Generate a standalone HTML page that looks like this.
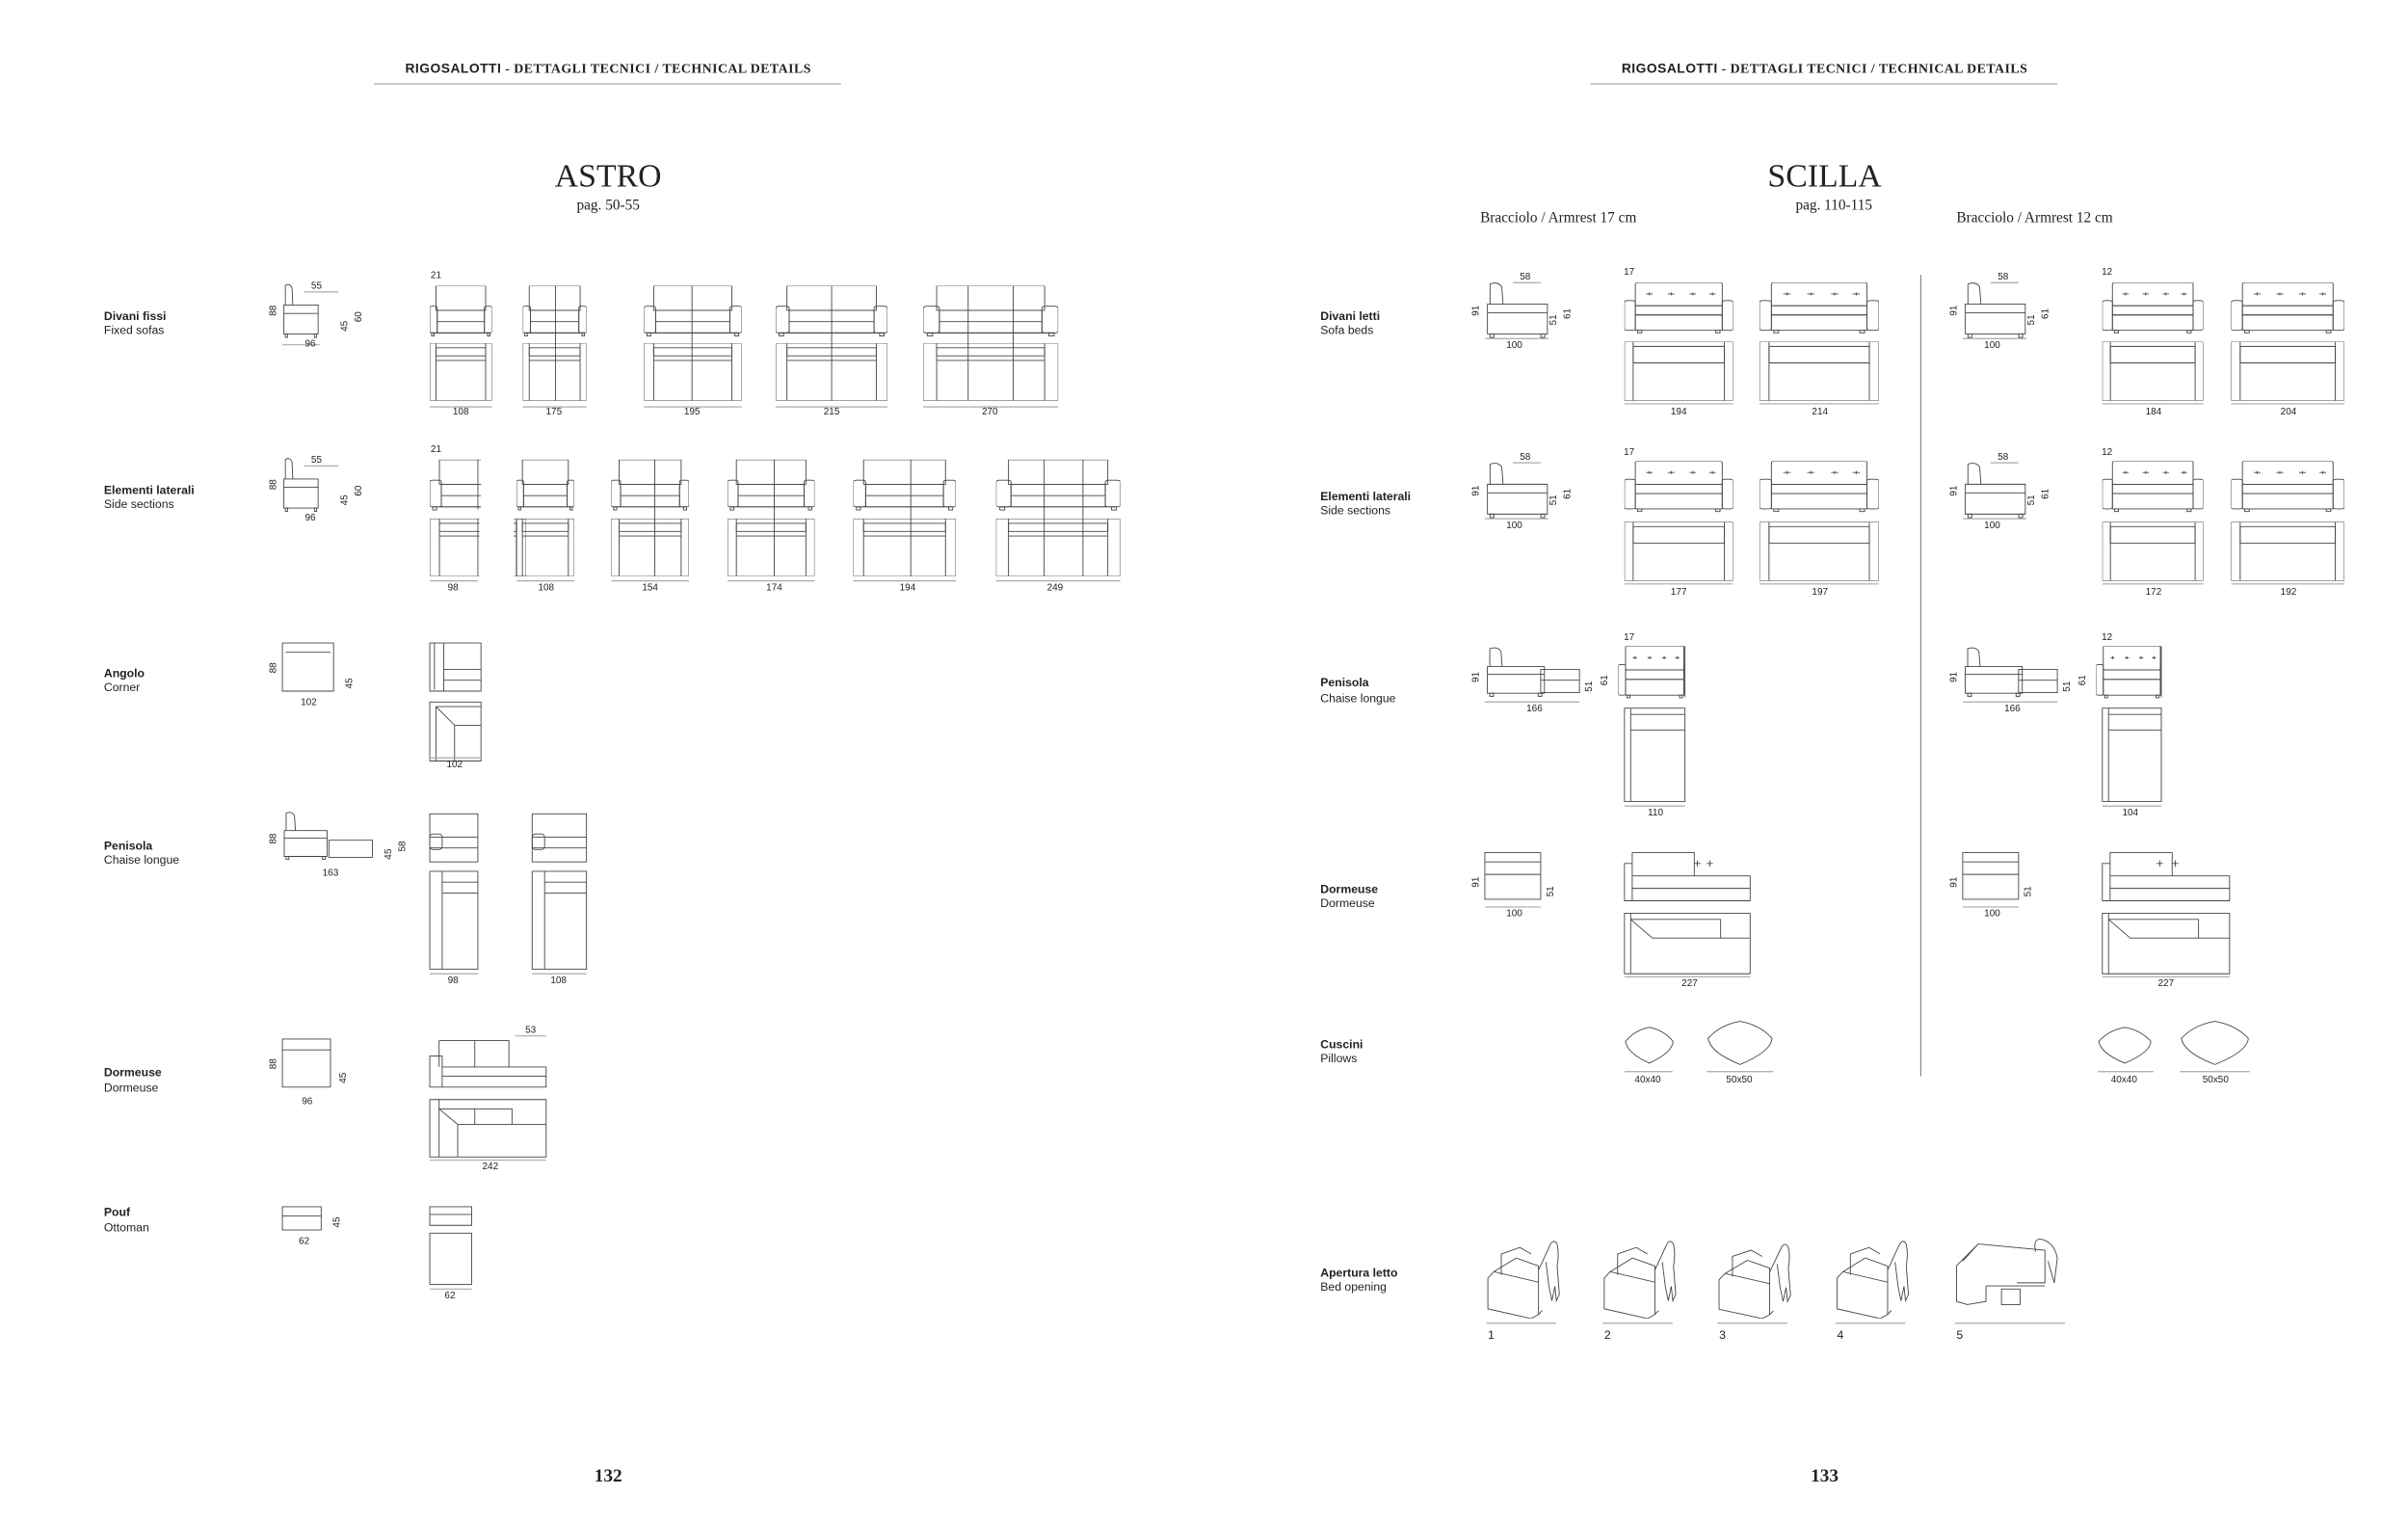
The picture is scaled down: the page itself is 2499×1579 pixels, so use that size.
<!DOCTYPE html>
<html><head><meta charset="utf-8"><style>
html,body{margin:0;padding:0;background:#fff}
svg{display:block}
.s{fill:none;stroke:#444;stroke-width:0.9;vector-effect:non-scaling-stroke}
.g{fill:none;stroke:#aaa;stroke-width:1.2;vector-effect:non-scaling-stroke}
text{font-family:"Liberation Sans",sans-serif;fill:#222}
.d{font-size:6.2px;text-anchor:middle}
.lb{font-size:7.6px;font-weight:bold}
.ls{font-size:7.6px}
.hd{font-family:"Liberation Serif",serif;font-size:8.6px;font-weight:bold;text-anchor:middle;letter-spacing:0.3px}
.hd tspan.a{font-family:"Liberation Sans",sans-serif}
.ti{font-family:"Liberation Serif",serif;font-size:21px;text-anchor:middle}
.pg{font-family:"Liberation Serif",serif;font-size:9.5px;text-anchor:middle}
.br{font-family:"Liberation Serif",serif;font-size:9.5px}
.pn{font-family:"Liberation Serif",serif;font-size:12px;font-weight:bold;text-anchor:middle}
</style></head><body>
<svg width="2499" height="1579" viewBox="0 0 1552 980" preserveAspectRatio="none" xmlns="http://www.w3.org/2000/svg">
<defs>
<symbol id="fr" viewBox="0 0 100 100" preserveAspectRatio="none">
<rect class="s" x="10" y="0" width="80" height="48"/><rect class="s" x="0" y="40" width="12" height="52" rx="3"/><rect class="s" x="88" y="40" width="12" height="52" rx="3"/><rect class="s" x="12" y="48" width="76" height="44"/><line class="s" x1="12" y1="70" x2="88" y2="70"/><line class="s" x1="4" y1="92" x2="96" y2="92"/><rect class="s" x="3" y="92" width="4" height="6"/><rect class="s" x="93" y="92" width="4" height="6"/></symbol>
<symbol id="tp" viewBox="0 0 100 100" preserveAspectRatio="none">
<rect class="s" x="0" y="0" width="100" height="100"/><line class="s" x1="10" y1="0" x2="10" y2="100"/><line class="s" x1="90" y1="0" x2="90" y2="100"/><rect class="s" x="10" y="8" width="80" height="14"/><line class="s" x1="10" y1="30" x2="90" y2="30"/></symbol>
<symbol id="sd" viewBox="0 0 100 100" preserveAspectRatio="none">
<path class="s" d="M8 40 L8 5 Q20 0 26 10 L28 40"/><rect class="s" x="4" y="40" width="92" height="52"/><line class="s" x1="4" y1="55" x2="96" y2="55"/><rect class="s" x="8" y="92" width="6" height="6"/><rect class="s" x="86" y="92" width="6" height="6"/></symbol>
<symbol id="sb" viewBox="0 0 100 100" preserveAspectRatio="none">
<rect class="s" x="10" y="0" width="80" height="45" rx="2"/><rect class="s" x="10" y="45" width="80" height="18"/><rect class="s" x="10" y="63" width="80" height="30"/><rect class="s" x="0" y="35" width="10" height="58" rx="3"/><rect class="s" x="90" y="35" width="10" height="58" rx="3"/><path class="s" d="M20 22h6M23 19v6M40 22h6M43 19v6M60 22h6M63 19v6M78 22h6M81 19v6"/><rect class="s" x="12" y="93" width="4" height="5"/><rect class="s" x="84" y="93" width="4" height="5"/></symbol>
<symbol id="st" viewBox="0 0 100 100" preserveAspectRatio="none">
<rect class="s" x="0" y="0" width="100" height="100"/><line class="s" x1="8" y1="0" x2="8" y2="100"/><line class="s" x1="92" y1="0" x2="92" y2="100"/><rect class="s" x="8" y="8" width="84" height="28"/></symbol>
<symbol id="cu" viewBox="0 0 100 100" preserveAspectRatio="none">
<path class="s" d="M50 2 Q80 10 98 40 Q96 70 50 98 Q6 72 2 40 Q20 10 50 2Z"/></symbol>
<symbol id="op" viewBox="0 0 100 100" preserveAspectRatio="none">
<path class="s" d="M2 50 L2 88 L60 100 L70 95 L70 55 L10 42Z M10 42 L40 25 L70 35 L70 55 M20 46 L20 20 L45 12 L60 20 M70 95 L75 90"/><path class="s" d="M70 40 Q80 20 85 10 Q90 0 95 8 Q98 20 95 35 L98 70 L94 78 L92 60 L88 78 L84 60 L80 30"/></symbol>
</defs>

<!-- LEFT PAGE -->
<text class="hd" x="392" y="47"><tspan class="a">RIGOSALOTTI</tspan> - DETTAGLI TECNICI / TECHNICAL DETAILS</text>
<line class="g" x1="241" y1="54" x2="542" y2="54"/>
<text class="ti" x="392" y="120">ASTRO</text>
<text class="pg" x="392" y="135">pag. 50-55</text>

<text class="lb" x="67" y="206">Divani fissi</text><text class="ls" x="67" y="215">Fixed sofas</text>
<text class="lb" x="67" y="318">Elementi laterali</text><text class="ls" x="67" y="327">Side sections</text>
<text class="lb" x="67" y="436">Angolo</text><text class="ls" x="67" y="445">Corner</text>
<text class="lb" x="67" y="547">Penisola</text><text class="ls" x="67" y="556">Chaise longue</text>
<text class="lb" x="67" y="693">Dormeuse</text><text class="ls" x="67" y="703">Dormeuse</text>
<text class="lb" x="67" y="783">Pouf</text><text class="ls" x="67" y="793">Ottoman</text>

<use href="#sd" x="182" y="182" width="24" height="36"/><text class="d" x="204" y="186">55</text><line class="g" x1="196" y1="188" x2="218" y2="188"/>
<text class="d" transform="translate(178,200) rotate(-90)">88</text><text class="d" transform="translate(224,210) rotate(-90)">45</text><text class="d" transform="translate(233,204) rotate(-90)">60</text><line class="g" x1="182" y1="222" x2="206" y2="222"/><text class="d" x="200" y="223">96</text>
<use href="#sd" x="182" y="294" width="24" height="36"/><text class="d" x="204" y="298">55</text><line class="g" x1="196" y1="300" x2="218" y2="300"/>
<text class="d" transform="translate(178,312) rotate(-90)">88</text><text class="d" transform="translate(224,322) rotate(-90)">45</text><text class="d" transform="translate(233,316) rotate(-90)">60</text><text class="d" x="200" y="335">96</text>
<rect class="s" x="182" y="414" width="33" height="31"/><line class="s" x1="184" y1="420" x2="213" y2="420"/><text class="d" transform="translate(178,430) rotate(-90)">88</text><text class="d" transform="translate(227,440) rotate(-90)">45</text><text class="d" x="199" y="454">102</text>
<use href="#sd" x="182" y="522" width="30" height="32"/><rect class="s" x="212" y="541" width="28" height="11"/><text class="d" transform="translate(178,540) rotate(-90)">88</text><text class="d" transform="translate(252,550) rotate(-90)">45</text><text class="d" transform="translate(261,545) rotate(-90)">58</text><text class="d" x="213" y="564">163</text>
<rect class="s" x="182" y="669" width="31" height="31"/><line class="s" x1="182" y1="676" x2="213" y2="676"/><text class="d" transform="translate(178,685) rotate(-90)">88</text><text class="d" transform="translate(223,694) rotate(-90)">45</text><text class="d" x="198" y="711">96</text>
<rect class="s" x="182" y="777" width="25" height="15"/><line class="s" x1="182" y1="783" x2="207" y2="783"/><text class="d" transform="translate(219,787) rotate(-90)">45</text><text class="d" x="196" y="801">62</text>

<text class="d" x="281" y="179">21</text>
<use href="#fr" x="277" y="184" width="40" height="33"/><use href="#tp" x="277" y="221" width="40" height="37"/><line class="g" x1="277" y1="262" x2="317" y2="262"/><text class="d" x="297" y="267">108</text>
<use href="#fr" x="337" y="184" width="41" height="33"/><use href="#tp" x="337" y="221" width="41" height="37"/><line class="s" x1="358" y1="184" x2="358" y2="258"/><line class="g" x1="337" y1="262" x2="378" y2="262"/><text class="d" x="357" y="267">175</text>
<use href="#fr" x="415" y="184" width="63" height="33"/><use href="#tp" x="415" y="221" width="63" height="37"/><line class="s" x1="446" y1="184" x2="446" y2="258"/><line class="g" x1="415" y1="262" x2="478" y2="262"/><text class="d" x="446" y="267">195</text>
<use href="#fr" x="500" y="184" width="72" height="33"/><use href="#tp" x="500" y="221" width="72" height="37"/><line class="s" x1="536" y1="184" x2="536" y2="258"/><line class="g" x1="500" y1="262" x2="572" y2="262"/><text class="d" x="536" y="267">215</text>
<use href="#fr" x="595" y="184" width="87" height="33"/><use href="#tp" x="595" y="221" width="87" height="37"/><line class="s" x1="624" y1="184" x2="624" y2="258"/><line class="s" x1="653" y1="184" x2="653" y2="258"/><line class="g" x1="595" y1="262" x2="682" y2="262"/><text class="d" x="638" y="267">270</text>

<text class="d" x="281" y="291">21</text>
<use href="#fr" x="277" y="296" width="62" height="33"/><rect x="310" y="290" width="40" height="90" fill="#fff"/><line class="s" x1="308" y1="296" x2="308" y2="328"/>
<use href="#tp" x="277" y="334" width="62" height="37"/><rect x="309" y="332" width="22" height="42" fill="#fff"/><line class="s" x1="308" y1="334" x2="308" y2="371"/><line class="g" x1="277" y1="374" x2="308" y2="374"/><text class="d" x="292" y="380">98</text>
<use href="#fr" x="333" y="296" width="37" height="33"/><use href="#tp" x="333" y="334" width="37" height="37"/><line class="g" x1="333" y1="374" x2="370" y2="374"/><text class="d" x="352" y="380">108</text>
<use href="#fr" x="394" y="296" width="50" height="33"/><use href="#tp" x="394" y="334" width="50" height="37"/><line class="s" x1="422" y1="296" x2="422" y2="371"/><line class="g" x1="394" y1="374" x2="444" y2="374"/><text class="d" x="419" y="380">154</text>
<use href="#fr" x="469" y="296" width="56" height="33"/><use href="#tp" x="469" y="334" width="56" height="37"/><line class="s" x1="499" y1="296" x2="499" y2="371"/><line class="g" x1="469" y1="374" x2="525" y2="374"/><text class="d" x="499" y="380">174</text>
<use href="#fr" x="550" y="296" width="66" height="33"/><use href="#tp" x="550" y="334" width="66" height="37"/><line class="s" x1="587" y1="296" x2="587" y2="371"/><line class="g" x1="550" y1="374" x2="616" y2="374"/><text class="d" x="585" y="380">194</text>
<use href="#fr" x="642" y="296" width="80" height="33"/><use href="#tp" x="642" y="334" width="80" height="37"/><line class="s" x1="673" y1="296" x2="673" y2="371"/><line class="s" x1="698" y1="296" x2="698" y2="371"/><line class="g" x1="642" y1="374" x2="722" y2="374"/><text class="d" x="680" y="380">249</text>

<rect class="s" x="277" y="414" width="33" height="31"/><path class="s" d="M280 414v30M286 414v31M286 431h24M286 438h24"/>
<rect class="s" x="277" y="452" width="33" height="38"/><path class="s" d="M281 455h29M281 455v35M281 455l12 12h17M293 467v23"/><line class="g" x1="277" y1="488" x2="310" y2="488"/><text class="d" x="293" y="494">102</text>

<rect class="s" x="277" y="524" width="31" height="31"/><path class="s" d="M277 539h31M277 546h31"/><rect class="s" x="277" y="537" width="8" height="10" rx="2"/>
<rect class="s" x="277" y="561" width="31" height="63"/><path class="s" d="M285 561v63M285 568h23M285 575h23"/><line class="g" x1="277" y1="627" x2="308" y2="627"/><text class="d" x="292" y="633">98</text>
<rect class="s" x="343" y="524" width="35" height="31"/><path class="s" d="M343 539h35M343 546h35"/><rect class="s" x="343" y="537" width="8" height="10" rx="2"/>
<rect class="s" x="343" y="561" width="35" height="63"/><path class="s" d="M351 561v63M351 568h27M351 575h27"/><line class="g" x1="343" y1="627" x2="378" y2="627"/><text class="d" x="360" y="633">108</text>

<text class="d" x="342" y="665">53</text><line class="g" x1="332" y1="667" x2="352" y2="667"/>
<path class="s" d="M283 670h45v17M283 670v17M277 680h8v20h-8zM285 687h67v13H285zM285 693h67M306 670v17"/>
<rect class="s" x="277" y="708" width="75" height="37"/><path class="s" d="M283 708v37M283 714h47v10M330 714v10M283 714l12 10h57M295 724v21M306 714v10"/><line class="g" x1="277" y1="747" x2="352" y2="747"/><text class="d" x="316" y="753">242</text>

<rect class="s" x="277" y="777" width="27" height="12"/><line class="s" x1="277" y1="782" x2="304" y2="782"/>
<rect class="s" x="277" y="794" width="27" height="33"/><line class="g" x1="277" y1="830" x2="304" y2="830"/><text class="d" x="290" y="836">62</text>

<text class="pn" x="392" y="954">132</text>

<!-- RIGHT PAGE -->
<text class="hd" x="1176" y="47"><tspan class="a">RIGOSALOTTI</tspan> - DETTAGLI TECNICI / TECHNICAL DETAILS</text>
<line class="g" x1="1025" y1="54" x2="1326" y2="54"/>
<text class="ti" x="1176" y="120">SCILLA</text>
<text class="pg" x="1182" y="135">pag. 110-115</text>
<text class="br" x="954" y="143">Bracciolo / Armrest 17 cm</text>
<text class="br" x="1261" y="143">Bracciolo / Armrest 12 cm</text>
<line class="g" x1="1238" y1="177" x2="1238" y2="693" style="stroke:#888"/>

<text class="lb" x="851" y="206">Divani letti</text><text class="ls" x="851" y="215">Sofa beds</text>
<text class="lb" x="851" y="322">Elementi laterali</text><text class="ls" x="851" y="331">Side sections</text>
<text class="lb" x="851" y="442">Penisola</text><text class="ls" x="851" y="452">Chaise longue</text>
<text class="lb" x="851" y="575">Dormeuse</text><text class="ls" x="851" y="584">Dormeuse</text>
<text class="lb" x="851" y="675">Cuscini</text><text class="ls" x="851" y="684">Pillows</text>
<text class="lb" x="851" y="822">Apertura letto</text><text class="ls" x="851" y="831">Bed opening</text>

<g id="sv1">
<use href="#sd" x="957" y="181" width="42" height="37"/><text class="d" x="983" y="180">58</text><line class="g" x1="975" y1="182" x2="993" y2="182"/>
<text class="d" transform="translate(953,200) rotate(-90)">91</text><text class="d" transform="translate(1003,206) rotate(-90)">51</text><text class="d" transform="translate(1012,202) rotate(-90)">61</text><line class="g" x1="957" y1="218" x2="998" y2="218"/><text class="d" x="976" y="224">100</text>
<use href="#sd" x="957" y="297" width="42" height="37"/><text class="d" x="983" y="296">58</text><line class="g" x1="975" y1="298" x2="993" y2="298"/>
<text class="d" transform="translate(953,316) rotate(-90)">91</text><text class="d" transform="translate(1003,322) rotate(-90)">51</text><text class="d" transform="translate(1012,318) rotate(-90)">61</text><line class="g" x1="957" y1="334" x2="998" y2="334"/><text class="d" x="976" y="340">100</text>
<use href="#sd" x="957" y="416" width="40" height="33"/><rect class="s" x="993" y="431" width="25" height="15"/><line class="s" x1="993" y1="438" x2="1018" y2="438"/>
<text class="d" transform="translate(953,436) rotate(-90)">91</text><text class="d" transform="translate(1026,442) rotate(-90)">51</text><text class="d" transform="translate(1036,438) rotate(-90)">61</text><line class="g" x1="957" y1="452" x2="1018" y2="452"/><text class="d" x="989" y="458">166</text>
<rect class="s" x="957" y="549" width="36" height="30"/><line class="s" x1="957" y1="555" x2="993" y2="555"/><line class="s" x1="957" y1="563" x2="993" y2="563"/>
<text class="d" transform="translate(953,568) rotate(-90)">91</text><text class="d" transform="translate(1001,574) rotate(-90)">51</text><line class="g" x1="957" y1="584" x2="993" y2="584"/><text class="d" x="976" y="590">100</text>
</g>
<use href="#sv1" x="308" y="0"/>

<text class="d" x="1050" y="177">17</text>
<use href="#sb" x="1047" y="182" width="70" height="33"/><use href="#st" x="1047" y="220" width="70" height="38"/><line class="g" x1="1047" y1="260" x2="1117" y2="260"/><text class="d" x="1082" y="267">194</text>
<use href="#sb" x="1134" y="182" width="77" height="33"/><use href="#st" x="1134" y="220" width="77" height="38"/><line class="g" x1="1134" y1="260" x2="1211" y2="260"/><text class="d" x="1173" y="267">214</text>
<text class="d" x="1050" y="293">17</text>
<use href="#sb" x="1047" y="297" width="70" height="33"/><use href="#st" x="1047" y="336" width="70" height="38"/><line class="g" x1="1047" y1="376" x2="1117" y2="376"/><text class="d" x="1082" y="383">177</text>
<use href="#sb" x="1134" y="297" width="77" height="33"/><use href="#st" x="1134" y="336" width="77" height="38"/><line class="g" x1="1134" y1="376" x2="1211" y2="376"/><text class="d" x="1173" y="383">197</text>
<text class="d" x="1050" y="412">17</text>
<use href="#sb" x="1043" y="416" width="47" height="34"/><rect x="1086" y="414" width="8" height="40" fill="#fff"/><line class="s" x1="1086" y1="416" x2="1086" y2="449"/>
<rect class="s" x="1047" y="456" width="39" height="60"/><path class="s" d="M1051 456v60M1051 460h35M1051 470h35"/><line class="g" x1="1047" y1="519" x2="1086" y2="519"/><text class="d" x="1067" y="525">110</text>
<path class="s" d="M1052 549h40v15M1052 549v15M1047 556h5v24h-5zM1052 564h76v16H1052zM1052 572h76"/><path class="s" d="M1092 556h4M1094 554v4M1100 556h4M1102 554v4"/>
<rect class="s" x="1047" y="588" width="81" height="39"/><path class="s" d="M1051 588v39M1051 592h58v12M1109 592v12M1051 592l14 12h63"/><line class="g" x1="1047" y1="629" x2="1128" y2="629"/><text class="d" x="1089" y="635">227</text>
<use href="#cu" x="1047" y="661" width="32" height="24"/><line class="g" x1="1047" y1="690" x2="1078" y2="690"/><text class="d" x="1062" y="697">40x40</text>
<use href="#cu" x="1100" y="657" width="43" height="29"/><line class="g" x1="1100" y1="690" x2="1143" y2="690"/><text class="d" x="1121" y="697">50x50</text>

<text class="d" x="1358" y="177">12</text>
<use href="#sb" x="1355" y="182" width="65" height="33"/><use href="#st" x="1355" y="220" width="65" height="38"/><line class="g" x1="1355" y1="260" x2="1420" y2="260"/><text class="d" x="1388" y="267">184</text>
<use href="#sb" x="1438" y="182" width="73" height="33"/><use href="#st" x="1438" y="220" width="73" height="38"/><line class="g" x1="1438" y1="260" x2="1511" y2="260"/><text class="d" x="1475" y="267">204</text>
<text class="d" x="1358" y="293">12</text>
<use href="#sb" x="1355" y="297" width="65" height="33"/><use href="#st" x="1355" y="336" width="65" height="38"/><line class="g" x1="1355" y1="376" x2="1420" y2="376"/><text class="d" x="1388" y="383">172</text>
<use href="#sb" x="1438" y="297" width="73" height="33"/><use href="#st" x="1438" y="336" width="73" height="38"/><line class="g" x1="1438" y1="376" x2="1511" y2="376"/><text class="d" x="1475" y="383">192</text>
<text class="d" x="1358" y="412">12</text>
<use href="#sb" x="1351" y="416" width="46" height="34"/><rect x="1393" y="414" width="8" height="40" fill="#fff"/><line class="s" x1="1393" y1="416" x2="1393" y2="449"/>
<rect class="s" x="1355" y="456" width="38" height="60"/><path class="s" d="M1359 456v60M1359 460h34M1359 470h34"/><line class="g" x1="1355" y1="519" x2="1393" y2="519"/><text class="d" x="1373" y="525">104</text>
<path class="s" d="M1360 549h40v15M1360 549v15M1355 556h5v24h-5zM1360 564h77v16H1360zM1360 572h77"/><path class="s" d="M1390 556h4M1392 554v4M1400 556h4M1402 554v4"/>
<rect class="s" x="1355" y="588" width="82" height="39"/><path class="s" d="M1359 588v39M1359 592h58v12M1417 592v12M1359 592l14 12h64"/><line class="g" x1="1355" y1="629" x2="1437" y2="629"/><text class="d" x="1396" y="635">227</text>
<use href="#cu" x="1352" y="661" width="35" height="24"/><line class="g" x1="1352" y1="690" x2="1388" y2="690"/><text class="d" x="1369" y="697">40x40</text>
<use href="#cu" x="1405" y="657" width="45" height="29"/><line class="g" x1="1405" y1="690" x2="1450" y2="690"/><text class="d" x="1428" y="697">50x50</text>

<use href="#op" x="958" y="797" width="48" height="52"/><line class="g" x1="958" y1="852" x2="1003" y2="852"/><text class="ls" x="959" y="862">1</text>
<use href="#op" x="1033" y="797" width="48" height="52"/><line class="g" x1="1033" y1="852" x2="1078" y2="852"/><text class="ls" x="1034" y="862">2</text>
<use href="#op" x="1107" y="799" width="48" height="50"/><line class="g" x1="1107" y1="852" x2="1152" y2="852"/><text class="ls" x="1108" y="862">3</text>
<use href="#op" x="1183" y="797" width="48" height="52"/><line class="g" x1="1183" y1="852" x2="1228" y2="852"/><text class="ls" x="1184" y="862">4</text>
<path class="s" d="M1261 815 L1275 801 L1318 805 L1318 826 L1300 826 M1261 815 L1261 838 L1268 840 L1280 838 L1280 828 L1318 828 M1275 801 L1265 812"/><path class="s" d="M1312 806 Q1310 797 1316 798 Q1324 800 1326 810 L1324 826 L1320 812 M1290 830 h12 v10 h-12z"/>
<line class="g" x1="1260" y1="852" x2="1331" y2="852"/><text class="ls" x="1261" y="862">5</text>

<text class="pn" x="1176" y="954">133</text>
</svg>
</body></html>
